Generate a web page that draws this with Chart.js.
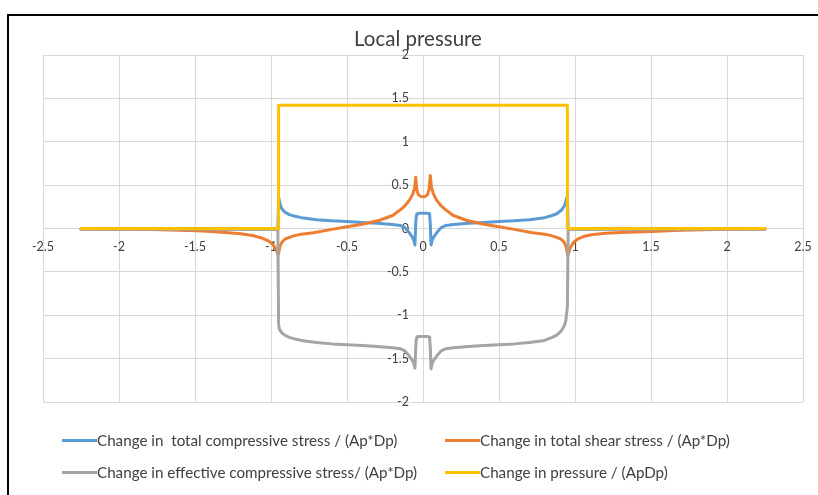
<!DOCTYPE html>
<html>
<head>
<meta charset="utf-8">
<script src="https://cdn.jsdelivr.net/npm/chart.js@4.4.1/dist/chart.umd.min.js"></script>
<style>
  html, body { margin: 0; padding: 0; background: #fff; }
  #wrap { position: relative; width: 818px; height: 495px; overflow: hidden; background: #fff; }
  #c { position: absolute; left: 0; top: 0; }
  #frame { position: absolute; left: 7px; top: 14px; right: -10px; bottom: -10px;
           border-left: 2px solid #000; border-top: 2px solid #000; pointer-events: none; }
  #legend { position: absolute; left: 0; top: 0; width: 818px; height: 495px; pointer-events: none;
            font-family: Lato, "Open Sans", sans-serif; font-size: 15.2px; color: #404040; }
  .item { position: absolute; height: 20px; display: flex; align-items: center; white-space: pre; }
  .swatch { width: 35px; height: 3px; flex: none; }
</style>
</head>
<body>
<div id="wrap">
  <canvas id="c" width="818" height="495"></canvas>
  <div id="legend"></div>
  <div id="frame"></div>
</div>
<script>
// Normalised position along the cross-section
const xTicks = { min: -2.5, max: 2.5, step: 0.5 };
const yTicks = { min: -2, max: 2, step: 0.5 };

// Change in total compressive stress / (Ap*Dp)
const compX = [-2.25, -1.5, -0.955, -0.95, -0.945, -0.94, -0.93, -0.91, -0.88, -0.85, -0.8, -0.7, -0.6, -0.5,
  -0.4, -0.3, -0.2, -0.15, -0.12, -0.09, -0.07, -0.06, -0.053, -0.048, -0.044, -0.04, -0.03, 0,
  0.03, 0.04, 0.044, 0.048, 0.053, 0.06, 0.07, 0.09, 0.12, 0.15, 0.2, 0.3, 0.4, 0.5,
  0.6, 0.7, 0.8, 0.85, 0.88, 0.91, 0.93, 0.94, 0.945, 0.95, 0.955, 1.5, 2.25];
const compY = [-0.005, -0.005, -0.005, 0.36, 0.32, 0.28, 0.23, 0.19, 0.16, 0.145, 0.125, 0.1, 0.088, 0.08,
  0.07, 0.06, 0.045, 0.035, 0.01, -0.05, -0.1, -0.14, -0.19, 0.05, 0.15, 0.17, 0.175, 0.175,
  0.175, 0.17, 0.15, 0.05, -0.19, -0.14, -0.1, -0.05, 0.01, 0.035, 0.045, 0.06, 0.07, 0.08,
  0.088, 0.1, 0.125, 0.15, 0.17, 0.21, 0.26, 0.31, 0.35, 0.38, -0.005, -0.005, -0.005];

// Change in total shear stress / (Ap*Dp)
const shearX = [-2.25, -2.0, -1.8, -1.6, -1.45, -1.3, -1.2, -1.12, -1.06, -1.02, -0.99, -0.97, -0.96, -0.953,
  -0.947, -0.94, -0.93, -0.92, -0.9, -0.85, -0.8, -0.72, -0.6, -0.5, -0.4, -0.285, -0.2, -0.153,
  -0.12, -0.088, -0.066, -0.055, -0.048, -0.04, -0.03, -0.015, 0, 0.015, 0.03, 0.04, 0.048,
  0.055, 0.066, 0.088, 0.12, 0.153, 0.2, 0.285, 0.4, 0.5, 0.6, 0.72, 0.8, 0.85, 0.9, 0.92,
  0.93, 0.94, 0.947, 0.953, 0.96, 0.97, 0.99, 1.02, 1.06, 1.12, 1.2, 1.3, 1.5, 1.7, 2.0, 2.25];
const shearY = [-0.005, -0.008, -0.012, -0.02, -0.03, -0.045, -0.06, -0.08, -0.11, -0.14, -0.18, -0.23, -0.27, -0.3,
  -0.26, -0.2, -0.165, -0.14, -0.115, -0.085, -0.065, -0.05, -0.01, 0.02, 0.05, 0.095, 0.15, 0.21,
  0.26, 0.33, 0.4, 0.47, 0.59, 0.44, 0.39, 0.37, 0.365, 0.37, 0.39, 0.45, 0.61,
  0.48, 0.41, 0.33, 0.26, 0.21, 0.15, 0.095, 0.05, 0.02, -0.01, -0.05, -0.065, -0.085, -0.115, -0.14,
  -0.165, -0.2, -0.26, -0.31, -0.27, -0.22, -0.16, -0.12, -0.09, -0.07, -0.055, -0.045, -0.035, -0.02, -0.008, -0.005];

// Change in effective compressive stress / (Ap*Dp)
const effX = [-2.25, -1.5, -0.955, -0.95, -0.945, -0.93, -0.91, -0.88, -0.85, -0.8, -0.7, -0.6, -0.5,
  -0.4, -0.3, -0.2, -0.15, -0.12, -0.09, -0.07, -0.06, -0.053, -0.048, -0.044, -0.04, -0.03, 0,
  0.03, 0.04, 0.044, 0.048, 0.053, 0.06, 0.07, 0.09, 0.12, 0.15, 0.2, 0.3, 0.4, 0.5,
  0.6, 0.7, 0.8, 0.85, 0.88, 0.91, 0.93, 0.94, 0.95, 0.955, 1.5, 2.25];
const effY = [-0.01, -0.01, -0.01, -1.1, -1.16, -1.2, -1.23, -1.255, -1.27, -1.29, -1.315, -1.33, -1.34,
  -1.35, -1.36, -1.375, -1.385, -1.41, -1.47, -1.52, -1.56, -1.61, -1.37, -1.27, -1.25, -1.245, -1.245,
  -1.245, -1.25, -1.27, -1.37, -1.62, -1.56, -1.52, -1.47, -1.41, -1.385, -1.375, -1.36, -1.35, -1.34,
  -1.33, -1.315, -1.29, -1.255, -1.23, -1.18, -1.12, -1.06, -0.9, -0.01, -0.01, -0.01];

// Change in pressure / (ApDp)
const pressX = [-2.25, -0.95, -0.95, 0.95, 0.95, 2.25];
const pressY = [0, 0, 1.42, 1.42, 0, 0];

const seriesLabels = [
  'Change in  total compressive stress / (Ap*Dp)',
  'Change in total shear stress / (Ap*Dp)',
  'Change in effective compressive stress/ (Ap*Dp)',
  'Change in pressure / (ApDp)'
];
const seriesColors = ['#5B9BD5', '#ED7D31', '#A5A5A5', '#FFC000'];

const toPoints = (xs, ys) => xs.map((x, i) => ({ x, y: ys[i] }));
const seriesData = [toPoints(compX, compY), toPoints(shearX, shearY), toPoints(effX, effY), toPoints(pressX, pressY)];

const FONT = 'Lato, "Open Sans", sans-serif';
const TEXT = '#404040';
const GRID = '#d9d9d9';

// Plain number text for tick values: 2, 1.5, 1, 0.5, 0, -0.5 ...
const tickText = v => String(Math.round(v * 100) / 100);

// Axis labels drawn next to the axes that cross at the origin
const crossAxisLabels = {
  id: 'crossAxisLabels',
  beforeDatasetsDraw(chart) {
    const { ctx, scales: { x, y } } = chart;
    const x0 = x.getPixelForValue(0);
    const y0 = y.getPixelForValue(0);
    ctx.save();
    ctx.font = '12.5px ' + FONT;
    ctx.fillStyle = TEXT;
    ctx.textAlign = 'center';
    ctx.textBaseline = 'middle';
    x.ticks.forEach(t => {
      ctx.fillText(tickText(t.value), x.getPixelForValue(t.value), y0 + 18);
    });
    ctx.textAlign = 'right';
    y.ticks.forEach(t => {
      ctx.fillText(tickText(t.value), x0 - 14, y.getPixelForValue(t.value));
    });
    ctx.restore();
  }
};

// Chart title, centred a little left of the plot centre as in the layout
const chartTitle = {
  id: 'chartTitle',
  afterDraw(chart) {
    const { ctx } = chart;
    ctx.save();
    ctx.font = '20.5px ' + FONT;
    ctx.fillStyle = TEXT;
    ctx.textAlign = 'center';
    ctx.textBaseline = 'middle';
    ctx.fillText('Local pressure', 418, 39);
    ctx.restore();
  }
};

const chart = new Chart(document.getElementById('c'), {
  type: 'scatter',
  data: {
    datasets: seriesData.map((d, i) => ({
      label: seriesLabels[i],
      data: d,
      showLine: true,
      borderColor: seriesColors[i],
      backgroundColor: seriesColors[i],
      borderWidth: 3,
      borderJoinStyle: 'round',
      borderCapStyle: 'round',
      pointRadius: 0,
      pointHoverRadius: 0,
      tension: 0,
      order: 3 - i
    }))
  },
  options: {
    responsive: false,
    animation: false,
    devicePixelRatio: 1,
    layout: { padding: { top: 55, left: 43, right: 15, bottom: 93 } },
    scales: {
      x: {
        type: 'linear', min: xTicks.min, max: xTicks.max,
        ticks: { stepSize: xTicks.step, display: false },
        grid: { color: GRID, lineWidth: 1, drawTicks: false },
        border: { display: false }
      },
      y: {
        type: 'linear', min: yTicks.min, max: yTicks.max,
        ticks: { stepSize: yTicks.step, display: false },
        grid: { color: GRID, lineWidth: 1, drawTicks: false },
        border: { display: false }
      }
    },
    plugins: {
      legend: { display: false },
      tooltip: { enabled: false },
      title: { display: false }
    }
  },
  plugins: [crossAxisLabels, chartTitle]
});

// Two-column legend built from the datasets
const legendEl = document.getElementById('legend');
const colLeft = [62, 445];
const rowMid = [440, 472];
chart.data.datasets.forEach((ds, i) => {
  const item = document.createElement('div');
  item.className = 'item';
  item.style.left = colLeft[i % 2] + 'px';
  item.style.top = (rowMid[Math.floor(i / 2)] - 10) + 'px';
  const sw = document.createElement('span');
  sw.className = 'swatch';
  sw.style.background = ds.borderColor;
  const tx = document.createElement('span');
  tx.textContent = ds.label;
  item.appendChild(sw);
  item.appendChild(tx);
  legendEl.appendChild(item);
});
</script>
</body>
</html>
